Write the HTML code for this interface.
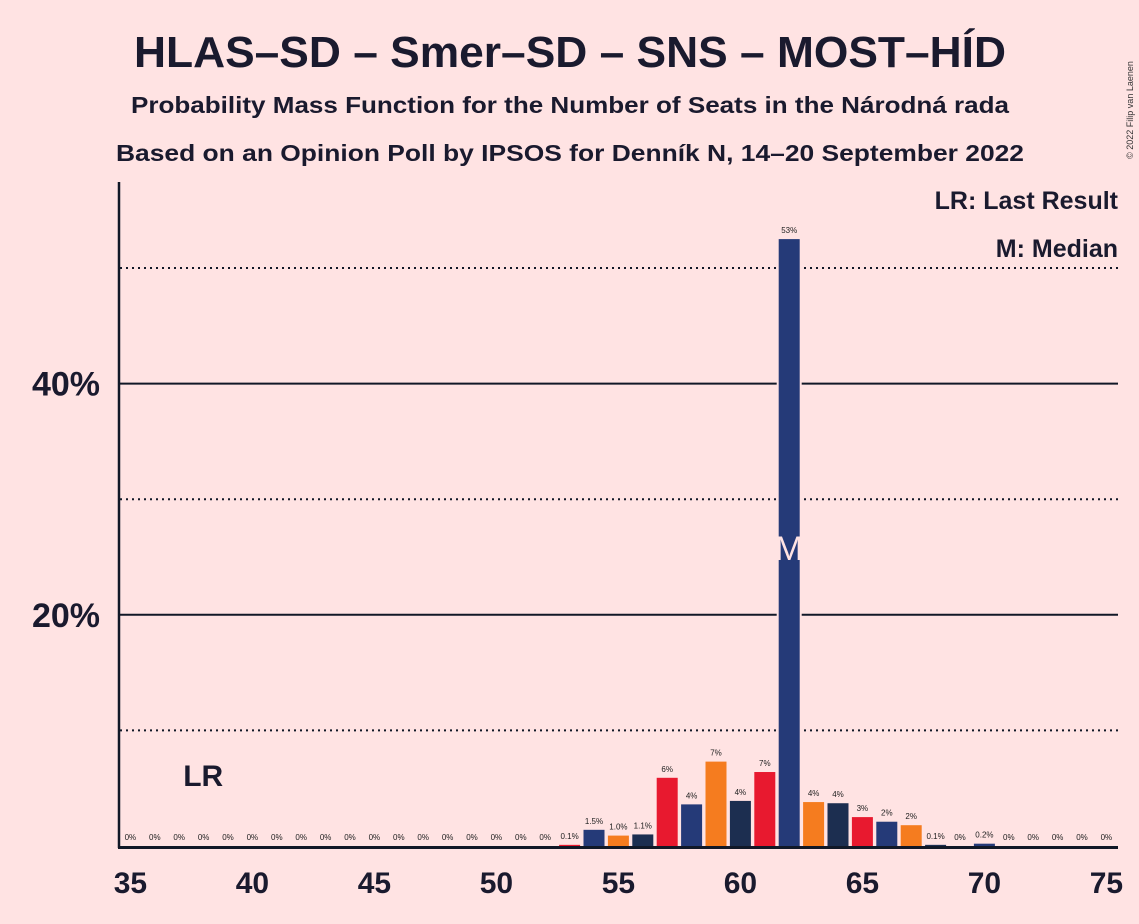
<!DOCTYPE html>
<html><head><meta charset="utf-8"><style>
body{margin:0;background:#FFE3E3;}
svg{display:block;font-family:"Liberation Sans",sans-serif;}
</style></head><body>
<svg width="1139" height="924" viewBox="0 0 1139 924">
<rect width="1139" height="924" fill="#FFE3E3"/>
<text x="570" y="67" text-anchor="middle" font-size="44" font-weight="bold" fill="#1a1a2e" textLength="872" lengthAdjust="spacingAndGlyphs">HLAS–SD – Smer–SD – SNS – MOST–HÍD</text>
<text x="570" y="113" text-anchor="middle" font-size="23" font-weight="bold" fill="#1a1a2e" textLength="878" lengthAdjust="spacingAndGlyphs">Probability Mass Function for the Number of Seats in the Národná rada</text>
<text x="570" y="161" text-anchor="middle" font-size="23" font-weight="bold" fill="#1a1a2e" textLength="908" lengthAdjust="spacingAndGlyphs">Based on an Opinion Poll by IPSOS for Denník N, 14–20 September 2022</text>
<text transform="translate(1133,110) rotate(-90)" font-size="9" fill="#333" text-anchor="middle">© 2022 Filip van Laenen</text>
<text x="1118" y="209" text-anchor="end" font-size="25" font-weight="bold" fill="#1a1a2e">LR: Last Result</text>
<text x="1118" y="257" text-anchor="end" font-size="25" font-weight="bold" fill="#1a1a2e">M: Median</text>
<g id="grid"></g>
<g id="bars"></g>
<g id="labels"></g>
<line x1="119" y1="182" x2="119" y2="848" stroke="#111827" stroke-width="2.5"/>
<line x1="118" y1="847.5" x2="1118" y2="847.5" stroke="#111827" stroke-width="3"/>
<g id="ticks"></g>
</svg>
<script>
const seats = [35,36,37,38,39,40,41,42,43,44,45,46,47,48,49,50,51,52,53,54,55,56,57,58,59,60,61,62,63,64,65,66,67,68,69,70,71,72,73,74,75];
const probs = [0,0,0,0,0,0,0,0,0,0,0,0,0,0,0,0,0,0,0.1,1.4,0.9,1.0,5.9,3.6,7.3,3.9,6.4,52.5,3.8,3.7,2.5,2.1,1.8,0.1,0,0.2,0,0,0,0,0];
const printed = ["0%","0%","0%","0%","0%","0%","0%","0%","0%","0%","0%","0%","0%","0%","0%","0%","0%","0%","0.1%","1.5%","1.0%","1.1%","6%","4%","7%","4%","7%","53%","4%","4%","3%","2%","2%","0.1%","0%","0.2%","0%","0%","0%","0%","0%"];
const xTicks = [35,40,45,50,55,60,65,70,75];
const yTicks = [20,40];
const gridLines = [10,20,30,40,50];
const lastResult = 37;
const median = 62;

const NS="http://www.w3.org/2000/svg";
const X = s => 130.4 + (s-35)*24.4;
const Y = p => 846 - p*11.56;
const BW = 21;
function mk(tag, attrs, parent){const e=document.createElementNS(NS,tag);for(const k in attrs)e.setAttribute(k,attrs[k]);document.getElementById(parent).appendChild(e);return e;}
function color(s){
  if(s%2===0) return (s%4===2)?"#253A78":"#1C2E50";
  return (s%4===3)?"#F57C1F":"#E8192F";
}
gridLines.forEach(g=>{
  const l=mk('line',{x1:120,x2:1118,y1:Y(g),y2:Y(g),stroke:'#111827','stroke-width':2,'stroke-dasharray':g%20===0?'none':'2,4'},'grid');
  
  
});
seats.forEach((s,i)=>{
  const p=probs[i];
  if(p>=10){
    const gap=mk('rect',{x:X(s)-BW/2-2,y:Y(p),width:BW+4,height:Y(0)-Y(p),fill:'#FFE3E3'},'bars');
    
    
  }
  if(p>0){
    const r=mk('rect',{x:X(s)-BW/2,y:Y(p),width:BW,height:Y(0)-Y(p),fill:color(s)},'bars');
    
    
  }
  const t=mk('text',{x:X(s),y:Y(p)-6,'text-anchor':'middle','font-size':8,fill:'#222'},'labels');
  t.textContent=printed[i];
  
  
  if(s===median){
    const m=mk('text',{x:X(s),y:560,'text-anchor':'middle','font-size':34,fill:'#FFE3E3'},'labels');
    m.textContent='M';
    
    
  }
});
const lr=mk('text',{x:X(lastResult)+24,y:786,'text-anchor':'middle','font-size':30,'font-weight':'bold',fill:'#1a1a2e'},'labels');
lr.textContent='LR';


xTicks.forEach(s=>{
  const t=mk('text',{x:X(s),y:893,'text-anchor':'middle','font-size':30,'font-weight':'bold',fill:'#1a1a2e'},'ticks');
  t.textContent=s;
  
  
});
yTicks.forEach(v=>{
  const t=mk('text',{x:100,y:Y(v)+12,'text-anchor':'end','font-size':34,'font-weight':'bold',fill:'#1a1a2e'},'ticks');
  t.textContent=v+'%';
  
  
});
</script>
</body></html>
